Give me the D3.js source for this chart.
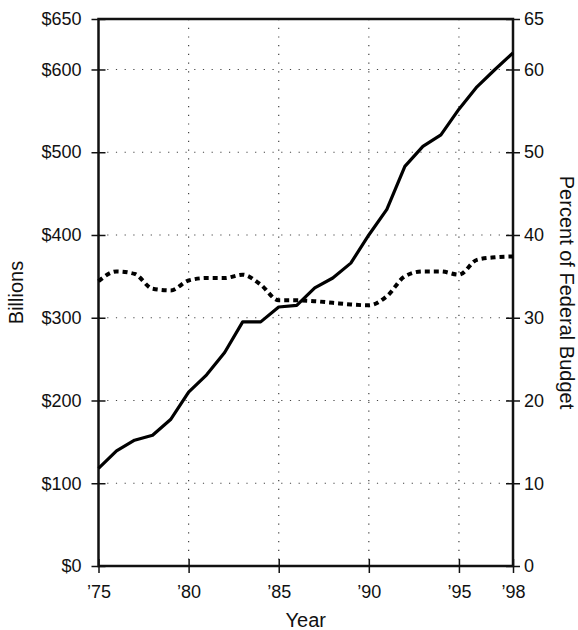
<!DOCTYPE html>
<html>
<head>
<meta charset="utf-8">
<script src="https://cdn.jsdelivr.net/npm/d3@7"></script>
<style>
  body { margin: 0; background: #fff; }
  svg text { font-family: "Liberation Sans", Arial, Helvetica, sans-serif; fill: #111; }
</style>
</head>
<body>
<script>
// data
const years = [1975, 1976, 1977, 1978, 1979, 1980, 1981, 1982, 1983, 1984, 1985, 1986,
               1987, 1988, 1989, 1990, 1991, 1992, 1993, 1994, 1995, 1996, 1997, 1998];
const billions = [118, 139, 152, 158, 177, 210, 231, 258, 295, 295, 313, 315,
                  336, 348, 366, 400, 431, 483, 507, 521, 552, 579, 600, 620];
const percent = [34.4, 35.6, 35.3, 33.5, 33.3, 34.5, 34.8, 34.8, 35.2, 34.0, 32.1, 32.1,
                 32.0, 31.8, 31.6, 31.5, 32.6, 35.0, 35.6, 35.6, 35.2, 37.0, 37.3, 37.4];

const xTicks = [1975, 1980, 1985, 1990, 1995, 1998];
const xGrid = [1980, 1985, 1990, 1995];
const leftTicks = [0, 100, 200, 300, 400, 500, 600];
const rightTicks = [0, 10, 20, 30, 40, 50, 60];
const yGrid = [100, 200, 300, 400, 500, 600];
const topValue = 661;          // the frame top sits a bit above the 650 step
const topLeftLabel = "$650";
const topRightLabel = "65";

const margin = { top: 19, right: 65, bottom: 64, left: 98.5 },
    width = 578 - margin.left - margin.right,
    height = 630 - margin.top - margin.bottom;

const x = d3.scaleLinear().domain([1975, 1998]).range([0, width]);
const y = d3.scaleLinear().domain([0, topValue]).range([height, 0]);
const y2 = d3.scaleLinear().domain([0, topValue / 10]).range([height, 0]);

const svg = d3.select("body")
    .append("svg")
    .attr("width", 578)
    .attr("height", 630)
    .append("g")
    .attr("transform", "translate(" + margin.left + "," + margin.top + ")");

// dotted grid
svg.append("g")
    .selectAll("line.h")
    .data(yGrid)
    .enter().append("line")
    .attr("x1", 0).attr("x2", width)
    .attr("y1", d => y(d)).attr("y2", d => y(d))
    .attr("stroke", "#444")
    .attr("stroke-width", 1.2)
    .attr("stroke-dasharray", "1.2,7.5");

svg.append("g")
    .selectAll("line.v")
    .data(xGrid)
    .enter().append("line")
    .attr("x1", d => x(d)).attr("x2", d => x(d))
    .attr("y1", 0).attr("y2", height)
    .attr("stroke", "#444")
    .attr("stroke-width", 1.2)
    .attr("stroke-dasharray", "1.2,7.5");

// axes
function styleAxis(g, sign, horizontal) {
    g.select(".domain").remove();
    g.selectAll(".tick line")
        .attr("stroke", "#111")
        .attr("stroke-width", 1.5)
        .attr(horizontal ? "y1" : "x1", sign * 7);
    g.selectAll(".tick text")
        .style("font-size", "18px");
}

svg.append("g")
    .call(d3.axisLeft(y)
        .tickValues(leftTicks.concat([topValue]))
        .tickSize(7)
        .tickPadding(10)
        .tickFormat(d => d === topValue ? topLeftLabel : "$" + d))
    .call(g => styleAxis(g, 1, false));

svg.append("g")
    .attr("transform", "translate(" + width + ",0)")
    .call(d3.axisRight(y2)
        .tickValues(rightTicks.concat([topValue / 10]))
        .tickSize(7)
        .tickPadding(4)
        .tickFormat(d => d === topValue / 10 ? topRightLabel : d))
    .call(g => styleAxis(g, -1, false));

svg.append("g")
    .attr("transform", "translate(0," + height + ")")
    .call(d3.axisBottom(x)
        .tickValues(xTicks)
        .tickSize(7)
        .tickPadding(12)
        .tickFormat(d => "\u2019" + String(d).slice(2)))
    .call(g => styleAxis(g, -1, true));

// frame
svg.append("rect")
    .attr("width", width)
    .attr("height", height)
    .attr("fill", "none")
    .attr("stroke", "#111")
    .attr("stroke-width", 2.5);

// lines
const rows = years.map((yr, i) => ({ year: yr, b: billions[i], p: percent[i] }));

svg.append("path")
    .datum(rows)
    .attr("fill", "none")
    .attr("stroke", "#000")
    .attr("stroke-width", 3.2)
    .attr("stroke-linejoin", "round")
    .attr("d", d3.line().x(d => x(d.year)).y(d => y(d.b)));

svg.append("path")
    .datum(rows)
    .attr("fill", "none")
    .attr("stroke", "#000")
    .attr("stroke-width", 4)
    .attr("stroke-dasharray", "5,4")
    .attr("d", d3.line().curve(d3.curveMonotoneX).x(d => x(d.year)).y(d => y2(d.p)));

// titles
svg.append("text")
    .attr("x", width / 2)
    .attr("y", height + 61)
    .attr("text-anchor", "middle")
    .style("font-size", "20px")
    .text("Year");

svg.append("text")
    .attr("transform", "translate(" + (-76) + "," + (height / 2) + ") rotate(-90)")
    .attr("text-anchor", "middle")
    .style("font-size", "20px")
    .text("Billions");

svg.append("text")
    .attr("transform", "translate(" + (width + 47) + "," + (height / 2) + ") rotate(90)")
    .attr("text-anchor", "middle")
    .style("font-size", "20px")
    .text("Percent of Federal Budget");
</script>
</body>
</html>
